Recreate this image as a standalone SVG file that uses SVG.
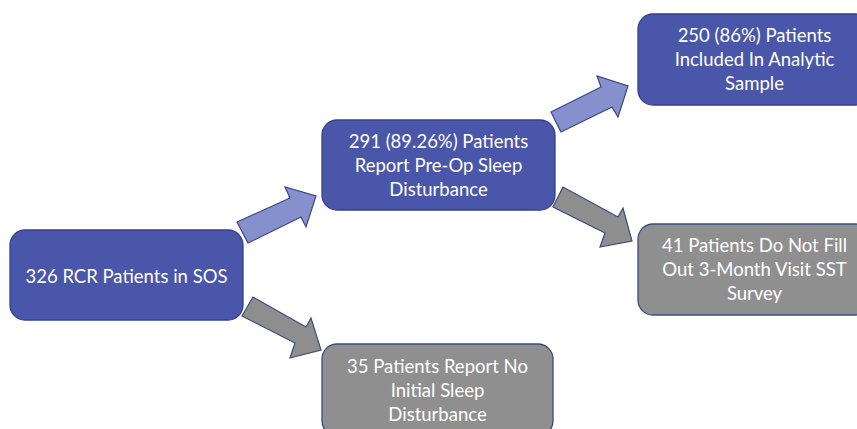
<svg xmlns="http://www.w3.org/2000/svg" width="857" height="429" viewBox="0 0 857 429">
<style>
.blue{fill:#4A56A9;stroke:#35408A;stroke-width:1.3}
.gray{fill:#8F8F8F;stroke:#3E4A7E;stroke-width:1.3}
.arb{fill:#8690CC;stroke:#3B4686;stroke-width:1.2;stroke-linejoin:miter}
.arg{fill:#8E8E8E;stroke:#3E4A7E;stroke-width:1.2;stroke-linejoin:miter}
text{font-family:Lato,"Open Sans","Liberation Sans",sans-serif;font-size:18.5px;fill:#FFFFFF;text-anchor:middle}
</style>
<rect width="857" height="429" fill="#FFFFFF"/>
<g id="connectors">
<polygon class="arb" points="248,243 237,222 290,198 285,187 316,196 306,227 301,217"/>
<polygon class="arb" points="561,132 551,112 601,87 597,76 628,86 618,117 612,107"/>
<polygon class="arg" points="563,187 553,207 605,233 600,247 632,241 623,208 618,217"/>
<polygon class="arg" points="253,297 242,316 295,343 290,358 321,350 311,318 306,327"/>
</g>
<g id="n1">
<rect class="blue" x="10" y="230" width="233" height="90" rx="15"/>
<text x="126.5" y="282.5">326 RCR Patients in SOS</text>
</g>
<g id="n2">
<rect class="blue" x="322" y="120" width="233" height="90" rx="15"/>
<text x="438.5" y="148">291 (89.26%) Patients</text>
<text x="438.5" y="172">Report Pre-Op Sleep</text>
<text x="438.5" y="196">Disturbance</text>
</g>
<g id="n3">
<rect class="blue" x="638" y="14" width="233" height="91" rx="15"/>
<text x="754.5" y="41.5">250 (86%) Patients</text>
<text x="754.5" y="65.5">Included In Analytic</text>
<text x="754.5" y="89.5">Sample</text>
</g>
<g id="n4">
<rect class="gray" x="638" y="224" width="233" height="91" rx="15"/>
<text x="754.5" y="252">41 Patients Do Not Fill</text>
<text x="754.5" y="276">Out 3-Month Visit SST</text>
<text x="754.5" y="300">Survey</text>
</g>
<g id="n5">
<rect class="gray" x="322" y="344" width="231" height="92" rx="15"/>
<text x="437.5" y="372.5">35 Patients Report No</text>
<text x="437.5" y="396.5">Initial Sleep</text>
<text x="437.5" y="420.5">Disturbance</text>
</g>
</svg>
